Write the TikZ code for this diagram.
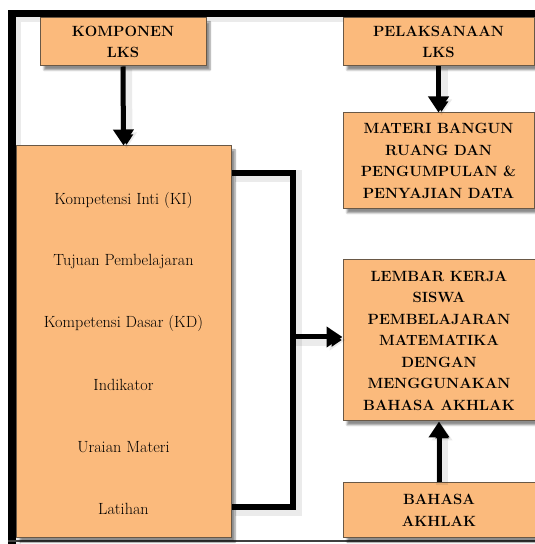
\documentclass[tikz,border=0pt]{standalone}
\usepackage{xcolor}
\usetikzlibrary{arrows.meta,shadows.blur}

\definecolor{oranyeMuda}{RGB}{251,186,124}
\definecolor{garisKotak}{RGB}{105,88,70}

\tikzset{
    kotak/.style={draw=garisKotak, line width=1pt, fill=oranyeMuda, align=center,
        inner sep=0pt, font=\bfseries\fontsize{14.8}{21.5}\selectfont,
        blur shadow={shadow xshift=4pt, shadow yshift=-4pt, shadow blur steps=6, shadow opacity=45}},
    isian/.style={font=\fontsize{16.2}{18}\selectfont, inner sep=0pt},
    bayang/.style={preaction={draw=black, draw opacity=0.08, line width=12pt,
        transform canvas={shift={(3pt,-3pt)}}}},
    garis/.style={line width=5.5pt, bayang},
    panah/.style={line width=5pt, -{Triangle[width=20pt,length=16pt]}, bayang}
}

\begin{document}
\begin{tikzpicture}[x=1pt,y=1pt]
    \useasboundingbox (0,0) rectangle (535,544);

    % Bingkai luar
    \draw[line width=7.5pt, bayang] (12,0) -- (12,530.5) -- (540,530.5);
    \draw[line width=1.5pt, black!75] (8,3) -- (535,3);

    % Kotak-kotak utama
    \node[kotak, minimum width=166pt, minimum height=48pt] (komponen) at (123,502) {KOMPONEN\\LKS};
    \node[kotak, minimum width=191pt, minimum height=48pt] (pelaksanaan) at (438.5,502) {PELAKSANAAN\\LKS};
    \node[kotak, minimum width=191pt, minimum height=96pt] (materi) at (438.5,383)
        {MATERI BANGUN\\RUANG DAN\\PENGUMPULAN \&\\PENYAJIAN DATA};
    \node[kotak, minimum width=192pt, minimum height=161pt] (lks) at (439,203.5)
        {LEMBAR KERJA\\SISWA\\PEMBELAJARAN\\MATEMATIKA\\DENGAN\\MENGGUNAKAN\\BAHASA AKHLAK};
    \node[kotak, minimum width=192pt, minimum height=55pt] (akhlak) at (439,33.5) {BAHASA\\AKHLAK};
    \node[kotak, minimum width=215pt, minimum height=392pt] (isi) at (123.5,202) {};

    % Isi komponen LKS
    \foreach \teks [count=\i from 0] in {Kompetensi Inti (KI), Tujuan Pembelajaran,
        Kompetensi Dasar (KD), Indikator, Uraian Materi, Latihan}
        \node[isian] (isi-\i) at (123.5, {344-61.8*\i}) {\teks};

    % Kurung penghubung
    \coordinate (sikuAtas) at (293,371);
    \coordinate (sikuBawah) at (293,37);
    \coordinate (tengah) at (293,207);
    \draw[garis] (isi.east |- sikuAtas) -- (sikuAtas) -- (sikuBawah) -- (isi.east |- sikuBawah);

    % Panah
    \draw[panah] (komponen.south) -- (isi.north);
    \draw[panah] (pelaksanaan.south) -- (materi.north);
    \draw[panah] (akhlak.north) -- (lks.south);
    \draw[panah] (tengah) -- (lks.west |- tengah);
\end{tikzpicture}
\end{document}
